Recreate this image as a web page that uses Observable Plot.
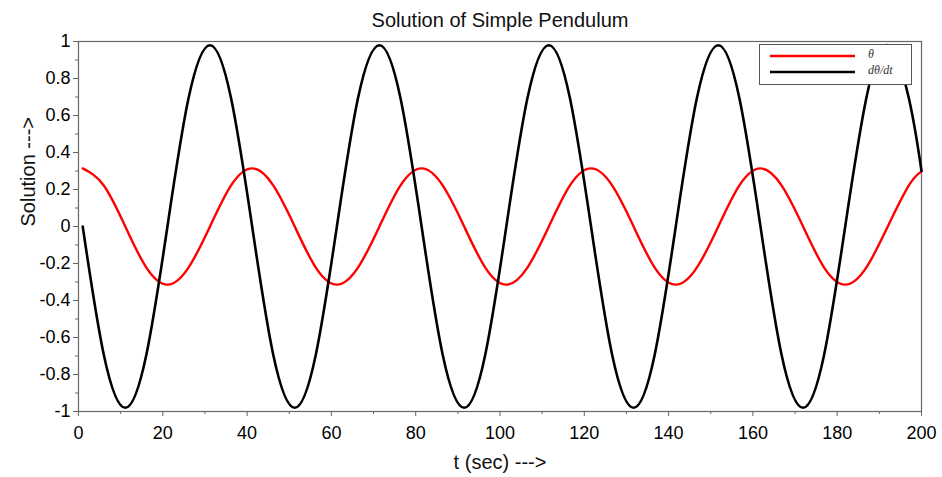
<!DOCTYPE html>
<html>
<head>
<meta charset="utf-8">
<script src="https://cdn.jsdelivr.net/npm/d3@7"></script>
<script src="https://cdn.jsdelivr.net/npm/@observablehq/plot@0.6"></script>
<style>
  body { margin: 0; background: #fff; }
  #wrap { position: relative; width: 942px; height: 477px; font-family: "Liberation Sans", Arial, sans-serif; }
  #legend { position: absolute; left: 759px; top: 44px; width: 151px; height: 39px; border: 1px solid #555; background: #fff; }
  #legend .lab { position: absolute; left: 108px; font-family: "Liberation Serif", "DejaVu Serif", serif; font-style: italic; font-size: 12px; color: #333; }
</style>
</head>
<body>
<div id="wrap"></div>
<script>
const title = "Solution of Simple Pendulum";
const xLabel = "t (sec) --->";
const yLabel = "Solution --->";
const seriesNames = ["θ", "dθ/dt"];
const seriesColors = ["#ff0000", "#000000"];

const xTicks = [0, 20, 40, 60, 80, 100, 120, 140, 160, 180, 200];
const xMinor = [10, 30, 50, 70, 90, 110, 130, 150, 170, 190];
const yTicks = [-1, -0.8, -0.6, -0.4, -0.2, 0, 0.2, 0.4, 0.6, 0.8, 1];
const yMinor = [-0.9, -0.7, -0.5, -0.3, -0.1, 0.1, 0.3, 0.5, 0.7, 0.9];

// time samples (s)
const time = [1.0, 6.0, 11.1, 16.1, 21.1, 26.1, 31.2, 36.2, 41.2, 46.2,
              51.3, 56.3, 61.3, 66.3, 71.4, 76.4, 81.4, 86.4, 91.5, 96.5,
              101.5, 106.5, 111.6, 116.6, 121.6, 126.6, 131.7, 136.7, 141.7, 146.7,
              151.8, 156.8, 161.8, 166.8, 171.9, 176.9, 181.9, 186.9, 192.0, 197.0, 200.0];
// theta
const theta = [0.314, 0.222, 0, -0.222, -0.314, -0.222, 0, 0.222,
               0.314, 0.222, 0, -0.222, -0.314, -0.222, 0, 0.222,
               0.314, 0.222, 0, -0.222, -0.314, -0.222, 0, 0.222,
               0.314, 0.222, 0, -0.222, -0.314, -0.222, 0, 0.222,
               0.314, 0.222, 0, -0.222, -0.314, -0.222, 0, 0.222, 0.298];
// dtheta/dt
const dtheta = [0, -0.693, -0.98, -0.693, 0, 0.693, 0.98, 0.693,
                0, -0.693, -0.98, -0.693, 0, 0.693, 0.98, 0.693,
                0, -0.693, -0.98, -0.693, 0, 0.693, 0.98, 0.693,
                0, -0.693, -0.98, -0.693, 0, 0.693, 0.98, 0.693,
                0, -0.693, -0.98, -0.693, 0, 0.693, 0.98, 0.693, 0.30];

const axisColor = "#666";

const chart = Plot.plot({
  width: 942,
  height: 477,
  marginLeft: 78,
  marginRight: 21,
  marginTop: 41,
  marginBottom: 66,
  style: { fontFamily: "'Liberation Sans', Arial, sans-serif", fontSize: "18px", color: "#000", background: "#fff" },
  x: { domain: [0, 200] },
  y: { domain: [-1, 1] },
  marks: [
    Plot.frame({ stroke: axisColor, strokeWidth: 1.2 }),
    Plot.axisY({ ticks: yTicks, tickSize: 5, tickPadding: 3, label: null, tickFormat: d => String(d), stroke: axisColor, fill: "#000" }),
    Plot.axisY({ ticks: yMinor, tickSize: 3, label: null, tickFormat: () => "", stroke: axisColor }),
    Plot.axisX({ ticks: xTicks, tickSize: 5, tickPadding: 10, label: null, tickFormat: d => String(d), stroke: axisColor, fill: "#000" }),
    Plot.axisX({ ticks: xMinor, tickSize: 3, label: null, tickFormat: () => "", stroke: axisColor }),
    Plot.line(time, { x: d => d, y: theta, curve: "natural", stroke: seriesColors[0], strokeWidth: 2.4 }),
    Plot.line(time, { x: d => d, y: dtheta, curve: "natural", stroke: seriesColors[1], strokeWidth: 2.6 }),
    Plot.text([title], { frameAnchor: "top", lineAnchor: "middle", dy: -21, fontSize: 20, fill: "#111" }),
    Plot.text([xLabel], { frameAnchor: "bottom", lineAnchor: "middle", dy: 51, fontSize: 20, fill: "#111" }),
    Plot.text([yLabel], { frameAnchor: "left", dx: -50, rotate: -90, fontSize: 20, fill: "#111" })
  ]
});

const wrap = document.getElementById("wrap");
wrap.appendChild(chart);

// legend
const legend = document.createElement("div");
legend.id = "legend";
seriesNames.forEach((name, i) => {
  const top = i === 0 ? 11 : 27;
  const svgNS = "http://www.w3.org/2000/svg";
  const s = document.createElementNS(svgNS, "svg");
  s.setAttribute("width", "86");
  s.setAttribute("height", "6");
  s.style.position = "absolute";
  s.style.left = "10px";
  s.style.top = (top - 3) + "px";
  const l = document.createElementNS(svgNS, "line");
  l.setAttribute("x1", "0"); l.setAttribute("x2", "85");
  l.setAttribute("y1", "3"); l.setAttribute("y2", "3");
  l.setAttribute("stroke", seriesColors[i]);
  l.setAttribute("stroke-width", "2.6");
  s.appendChild(l);
  legend.appendChild(s);
  const t = document.createElement("div");
  t.className = "lab";
  t.textContent = name;
  t.style.top = (top - 9) + "px";
  legend.appendChild(t);
});
wrap.appendChild(legend);
</script>
</body>
</html>
